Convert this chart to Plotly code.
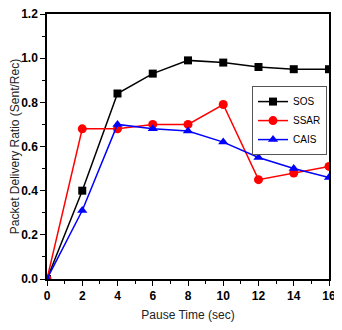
import plotly.graph_objects as go

pause_time = [0, 2, 4, 6, 8, 10, 12, 14, 16]
sos = [0.0, 0.40, 0.84, 0.93, 0.99, 0.98, 0.96, 0.95, 0.95]
ssar = [0.0, 0.68, 0.68, 0.70, 0.70, 0.79, 0.45, 0.48, 0.51]
cais = [0.0, 0.31, 0.70, 0.68, 0.67, 0.62, 0.55, 0.50, 0.46]

fig = go.Figure()
fig.add_trace(go.Scatter(x=pause_time, y=sos, name="SOS", mode="lines+markers",
                         line=dict(color="black", width=1.5),
                         marker=dict(symbol="square", size=8, color="black")))
fig.add_trace(go.Scatter(x=pause_time, y=ssar, name="SSAR", mode="lines+markers",
                         line=dict(color="red", width=1.5),
                         marker=dict(symbol="circle", size=9, color="red")))
fig.add_trace(go.Scatter(x=pause_time, y=cais, name="CAIS", mode="lines+markers",
                         line=dict(color="blue", width=1.5),
                         marker=dict(symbol="triangle-up", size=9, color="blue")))

axis_common = dict(
    showline=True, linecolor="black", linewidth=1.5, mirror=True,
    showgrid=False, zeroline=False, automargin=False, ticklabeloverflow="allow",
    ticks="outside", ticklen=5, tickwidth=1, tickcolor="black",
    tickfont=dict(family="Liberation Sans", size=12, color="black", weight="bold"),
    title_font=dict(family="Liberation Sans", size=12, color="#222"),
)

fig.update_xaxes(range=[0, 16], dtick=2, title_text="Pause Time (sec)",
                 minor=dict(ticks="outside", ticklen=3, dtick=1, tickcolor="black"),
                 title_standoff=14, **axis_common)
fig.update_yaxes(range=[0, 1.2], dtick=0.2, tickformat=".1f",
                 title_text="Packet Delivery Ratio (Sent/Rec)",
                 minor=dict(ticks="outside", ticklen=3, dtick=0.1, tickcolor="black"),
                 title_standoff=11, **axis_common)

# page has an 8px body margin; figure is sized so no scrollbar appears
fig.update_layout(
    width=333, height=314,
    margin=dict(l=39, r=12, t=6, b=43),
    paper_bgcolor="white", plot_bgcolor="white",
    font=dict(family="Liberation Sans", color="black"),
    legend=dict(x=0.727, y=0.728, xanchor="left", yanchor="top",
                bordercolor="#555", borderwidth=1, bgcolor="white",
                font=dict(family="Liberation Sans", size=10, color="black"),
                itemwidth=30, tracegroupgap=0),
)

fig.write_html("out.html")
